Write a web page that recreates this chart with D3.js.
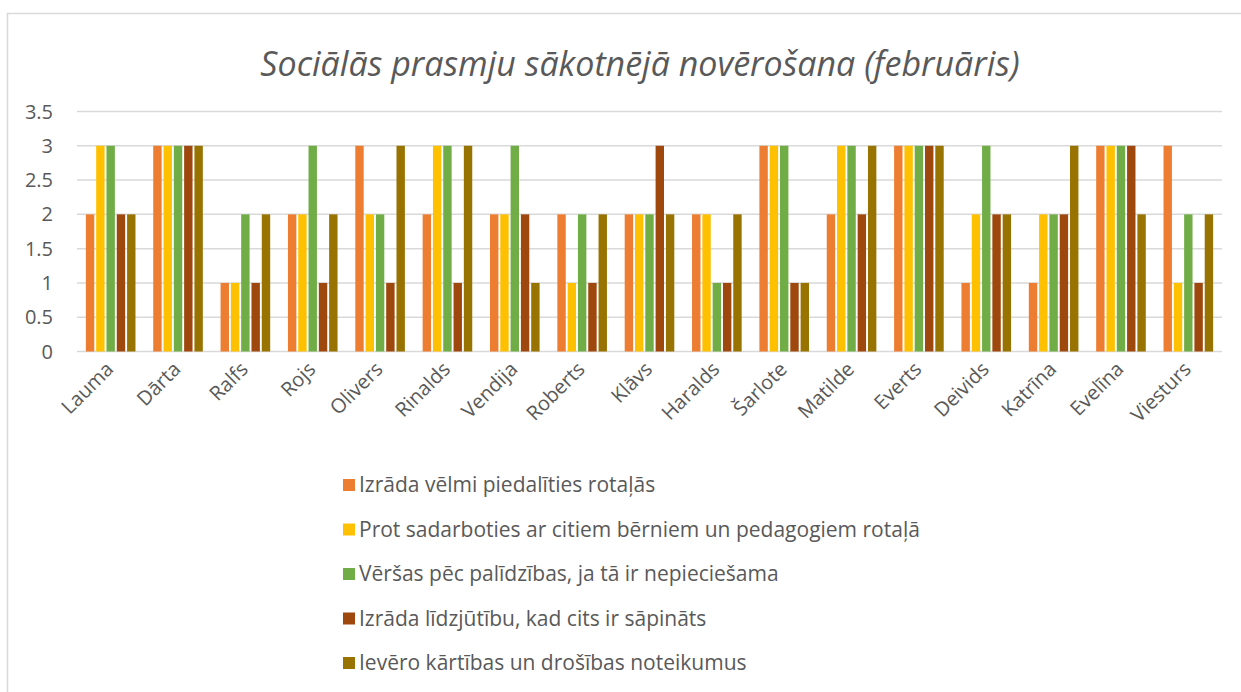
<!DOCTYPE html>
<html lang="lv">
<head>
    <meta charset="UTF-8">
    <title>Sociālās prasmju sākotnējā novērošana</title>
    <style>
        body { margin: 0; background: #fff; }
        text { font-family: "Open Sans", sans-serif; fill: #595959; }
    </style>
</head>
<body>
    <div id="chart"></div>

    <script src="https://d3js.org/d3.v7.min.js"></script>
    <script>
        const names = ["Lauma", "Dārta", "Ralfs", "Rojs", "Olivers", "Rinalds", "Vendija", "Roberts",
            "Klāvs", "Haralds", "Šarlote", "Matilde", "Everts", "Deivids", "Katrīna", "Evelīna", "Viesturs"];

        const seriesNames = [
            "Izrāda vēlmi piedalīties rotaļās",
            "Prot sadarboties ar citiem bērniem un pedagogiem rotaļā",
            "Vēršas pēc palīdzības, ja tā ir nepieciešama",
            "Izrāda līdzjūtību, kad cits ir sāpināts",
            "Ievēro kārtības un drošības noteikumus"
        ];
        const seriesColors = ["#ED7D31", "#FFC000", "#70AD47", "#9E480E", "#997300"];

        // one array per series, in the order of names
        const participates = [2, 3, 1, 2, 3, 2, 2, 2, 2, 2, 3, 2, 3, 1, 1, 3, 3];
        const cooperates   = [3, 3, 1, 2, 2, 3, 2, 1, 2, 2, 3, 3, 3, 2, 2, 3, 1];
        const asksHelp     = [3, 3, 2, 3, 2, 3, 3, 2, 2, 1, 3, 3, 3, 3, 2, 3, 2];
        const empathy      = [2, 3, 1, 1, 1, 1, 2, 1, 3, 1, 1, 2, 3, 2, 2, 3, 1];
        const followsRules = [2, 3, 2, 2, 3, 3, 1, 2, 2, 2, 1, 3, 3, 2, 3, 2, 2];

        const seriesValues = [participates, cooperates, asksHelp, empathy, followsRules];
        const yTicks = [0, 0.5, 1, 1.5, 2, 2.5, 3, 3.5];

        const width = 1241;
        const height = 692;
        const margin = { top: 111.5, right: 19, bottom: 340.5, left: 77 };

        const svg = d3.select("#chart")
            .append("svg")
            .attr("width", width)
            .attr("height", height);

        // chart frame
        svg.append("rect")
            .attr("x", 7.5)
            .attr("y", 13.5)
            .attr("width", width)
            .attr("height", height)
            .attr("fill", "none")
            .attr("stroke", "#d9d9d9")
            .attr("stroke-width", 1.5);

        svg.append("text")
            .attr("x", 640)
            .attr("y", 76)
            .attr("text-anchor", "middle")
            .style("font-size", "34px")
            .style("font-style", "italic")
            .text("Sociālās prasmju sākotnējā novērošana (februāris)");

        const x = d3.scaleBand()
            .domain(names)
            .range([margin.left, width - margin.right]);

        const y = d3.scaleLinear()
            .domain([0, 3.5])
            .range([height - margin.bottom, margin.top]);

        // gridlines
        svg.append("g")
            .selectAll("line")
            .data(yTicks)
            .join("line")
            .attr("x1", margin.left)
            .attr("x2", width - margin.right)
            .attr("y1", d => y(d))
            .attr("y2", d => y(d))
            .attr("stroke", "#d9d9d9")
            .attr("stroke-width", 1.5);

        // y labels
        svg.append("g")
            .selectAll("text")
            .data(yTicks)
            .join("text")
            .attr("x", 53)
            .attr("y", d => y(d))
            .attr("dy", "0.35em")
            .attr("text-anchor", "end")
            .style("font-size", "20px")
            .text(d => d);

        const step = 10.3;
        const barW = 8.4;
        const inner = d3.scaleBand()
            .domain(d3.range(seriesNames.length))
            .range([0, step * seriesNames.length]);

        const groupOffset = (x.bandwidth() - step * seriesNames.length) / 2;

        seriesValues.forEach((vals, s) => {
            svg.append("g")
                .attr("fill", seriesColors[s])
                .selectAll("rect")
                .data(vals)
                .join("rect")
                .attr("x", (d, i) => x(names[i]) + groupOffset + inner(s) + (step - barW) / 2)
                .attr("y", d => y(d))
                .attr("width", barW)
                .attr("height", d => y(0) - y(d));
        });

        // x labels, rotated
        svg.append("g")
            .selectAll("text")
            .data(names)
            .join("text")
            .attr("transform", d => `translate(${x(d) + x.bandwidth() / 2 - 1},${y(0) + 14}) rotate(-45)`)
            .attr("text-anchor", "end")
            .attr("dy", "0.35em")
            .style("font-size", "20px")
            .text(d => d);

        // legend
        const legend = svg.append("g")
            .attr("transform", "translate(343,485)");

        const item = legend.selectAll("g")
            .data(seriesNames)
            .join("g")
            .attr("transform", (d, i) => `translate(0,${i * 44.5})`);

        item.append("rect")
            .attr("x", 0)
            .attr("y", -6)
            .attr("width", 12)
            .attr("height", 12)
            .attr("fill", (d, i) => seriesColors[i]);

        item.append("text")
            .attr("x", 16)
            .attr("dy", "0.35em")
            .style("font-size", "21px")
            .text(d => d);
    </script>
</body>
</html>
